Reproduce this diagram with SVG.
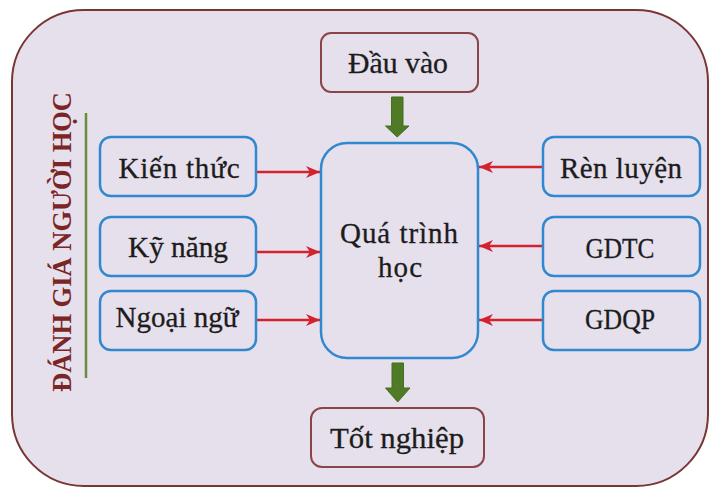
<svg xmlns="http://www.w3.org/2000/svg" width="710" height="488" viewBox="0 0 710 488">
<defs>
<style>
.t{font-family:"Liberation Serif","Times New Roman",serif;font-size:29px;fill:#1c1c1c;stroke:#1c1c1c;stroke-width:0.3;text-anchor:middle}
.bb{fill:#e6e0ec;stroke:#3288cf;stroke-width:2.5}
.rb{fill:#e6e0ec;stroke:#8a4646;stroke-width:2}
.ra{stroke:#d2222e;stroke-width:2.6;fill:none}
.ga{fill:#4f7b26;stroke:#45701f;stroke-width:1}
</style>
<marker id="ah" markerUnits="userSpaceOnUse" markerWidth="16" markerHeight="14" refX="14" refY="6.5" orient="auto">
<path d="M14,6.5 L0,0.5 L4,6.5 L0,12.5 Z" fill="#d2222e"/>
</marker>
</defs>
<rect x="0" y="0" width="710" height="488" fill="#ffffff"/>
<g id="frame">
<rect x="12" y="10" width="696" height="476" rx="72" ry="72" fill="#e6e0ec" stroke="#7a3535" stroke-width="2"/>
<line x1="86" y1="113" x2="86" y2="378" stroke="#6b8a3a" stroke-width="2.5"/>
<text transform="translate(71,242) rotate(-90)" x="0" y="0" textLength="300" lengthAdjust="spacingAndGlyphs" style="font-family:'Liberation Serif','Times New Roman',serif;font-size:27px;font-weight:bold;fill:#7a2626;text-anchor:middle">ĐÁNH GIÁ NGƯỜI HỌC</text>
</g>
<g id="connectors">
<line class="ra" x1="257" y1="172" x2="320" y2="172" marker-end="url(#ah)"/>
<line class="ra" x1="257" y1="252" x2="320" y2="252" marker-end="url(#ah)"/>
<line class="ra" x1="257" y1="320" x2="320" y2="320" marker-end="url(#ah)"/>
<line class="ra" x1="543" y1="167" x2="479" y2="167" marker-end="url(#ah)"/>
<line class="ra" x1="543" y1="246" x2="479" y2="246" marker-end="url(#ah)"/>
<line class="ra" x1="543" y1="320" x2="479" y2="320" marker-end="url(#ah)"/>
<polygon class="ga" points="391.5,97 403,97 403,126 409,126 397.2,137 385.5,126 391.5,126"/>
<polygon class="ga" points="392,363 403.5,363 403.5,388 410,388 397.7,402 385.5,388 392,388"/>
</g>
<g id="dau-vao">
<rect class="rb" x="321" y="33" width="157" height="59" rx="10"/>
<text class="t" x="398" y="73" textLength="100" lengthAdjust="spacingAndGlyphs">Đầu vào</text>
</g>
<g id="qua-trinh-hoc">
<rect class="bb" x="321" y="143" width="157" height="215" rx="26" stroke-width="3"/>
<text class="t" x="399" y="243" textLength="118">Quá trình</text>
<text class="t" x="400" y="277" textLength="44">học</text>
</g>
<g id="kien-thuc">
<rect class="bb" x="100" y="137" width="156" height="59" rx="11"/>
<text class="t" x="179" y="178" textLength="121">Kiến thức</text>
</g>
<g id="ky-nang">
<rect class="bb" x="100" y="217" width="156" height="59" rx="11"/>
<text class="t" x="178" y="257" textLength="100" lengthAdjust="spacingAndGlyphs">Kỹ năng</text>
</g>
<g id="ngoai-ngu">
<rect class="bb" x="100" y="291" width="156" height="59" rx="11"/>
<text class="t" x="177" y="327" textLength="123">Ngoại ngữ</text>
</g>
<g id="ren-luyen">
<rect class="bb" x="543" y="137" width="157" height="59" rx="11"/>
<text class="t" x="621" y="178" textLength="122">Rèn luyện</text>
</g>
<g id="gdtc">
<rect class="bb" x="543" y="217" width="157" height="59" rx="11"/>
<text class="t" x="620" y="258" textLength="69" lengthAdjust="spacingAndGlyphs" style="font-size:30px">GDTC</text>
</g>
<g id="gdqp">
<rect class="bb" x="543" y="291" width="157" height="59" rx="11"/>
<text class="t" x="620" y="329" textLength="70" lengthAdjust="spacingAndGlyphs" style="font-size:30px">GDQP</text>
</g>
<g id="tot-nghiep">
<rect class="rb" x="311" y="408" width="173" height="59" rx="11"/>
<text class="t" x="397" y="448" textLength="134" lengthAdjust="spacingAndGlyphs" style="font-size:30px">Tốt nghiệp</text>
</g>
</svg>
